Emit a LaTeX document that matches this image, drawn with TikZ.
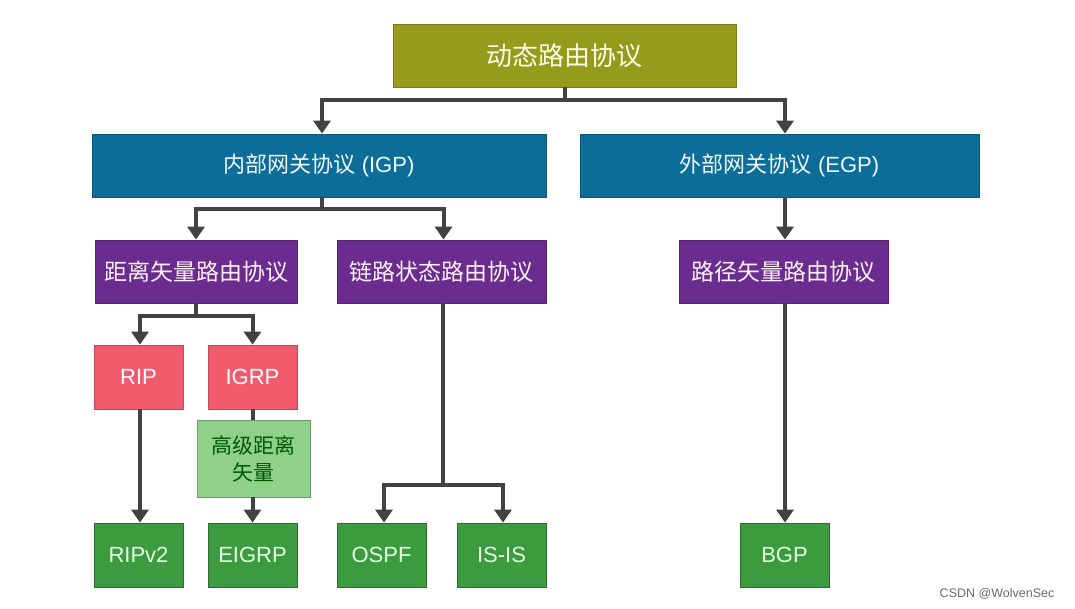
\documentclass[tikz,border=0pt]{standalone}
\usepackage{fontspec}
\setmainfont{Liberation Sans}
\newfontfamily\cjk{Noto Sans CJK SC}
\usetikzlibrary{arrows.meta,calc}
\definecolor{olivebox}{HTML}{979B1B}
\definecolor{bluebox}{HTML}{0C6D99}
\definecolor{purplebox}{HTML}{6A2C8E}
\definecolor{pinkbox}{HTML}{F15B6E}
\definecolor{greenbox}{HTML}{3C9B3E}
\definecolor{lgreenbox}{HTML}{8FD18B}
\definecolor{connc}{HTML}{424242}
\tikzset{
  box/.style={rectangle, inner sep=0pt, align=center, line width=0.8pt},
  lvlzero/.style={box, fill=olivebox, draw=olivebox!80!black, text=yellow!8!white, font=\fontsize{26}{30}\selectfont},
  lvlone/.style={box, fill=bluebox, draw=bluebox!80!black, text=cyan!6!white, font=\fontsize{22}{26}\selectfont, minimum height=63pt},
  lvltwo/.style={box, fill=purplebox, draw=purplebox!80!black, text=magenta!6!white, font=\fontsize{23}{27}\selectfont, minimum height=63pt},
  pinkb/.style={box, fill=pinkbox, draw=pinkbox!80!black, text=white, font=\fontsize{22}{26}\selectfont, minimum width=89pt, minimum height=64pt},
  greenb/.style={box, fill=greenbox, draw=greenbox!70!black, text=green!10!white, font=\fontsize{22}{26}\selectfont, minimum width=89pt, minimum height=64pt},
  lgreenb/.style={box, fill=lgreenbox, draw=lgreenbox!75!black, text=green!35!black, font=\fontsize{21}{27}\selectfont, minimum width=113pt, minimum height=77pt},
  conn/.style={line width=4pt, draw=connc},
  arr/.style={conn, -{Triangle[width=17pt,length=13pt]}}
}
\begin{document}
\begin{tikzpicture}[x=1pt,y=-1pt]
\useasboundingbox[fill=white] (0,0) rectangle (1075,609);
% nodes
\node[lvlzero, minimum width=343pt, minimum height=63pt] (top) at (564.5,55.5) {\cjk 动态路由协议};
\node[lvlone, minimum width=454pt] (igp) at (319,165.5) {{\cjk 内部网关协议} (IGP)};
\node[lvlone, minimum width=399pt] (egp) at (779.5,165.5) {{\cjk 外部网关协议} (EGP)};
\node[lvltwo, minimum width=202pt] (dv) at (196,271.5) {\cjk 距离矢量路由协议};
\node[lvltwo, minimum width=209pt] (ls) at (441.5,271.5) {\cjk 链路状态路由协议};
\node[lvltwo, minimum width=209pt] (pv) at (783.5,271.5) {\cjk 路径矢量路由协议};
\node[pinkb] (rip) at (138.5,377) {RIP};
\node[pinkb] (igrp) at (252.5,377) {IGRP};
\node[lgreenb] (adv) at (253.5,458.5) {\cjk 高级距离\\\cjk 矢量};
\node[greenb] (ripv2) at (138.5,555) {RIPv2};
\node[greenb] (eigrp) at (252.5,555) {EIGRP};
\node[greenb] (ospf) at (381.5,555) {OSPF};
\node[greenb] (isis) at (501.5,555) {IS-IS};
\node[greenb] (bgp) at (784.5,555) {BGP};
\node[text=gray!85!black, font=\fontsize{12.5}{14}\selectfont] (wm) at (997,594) {CSDN @WolvenSec};
% connectors
\draw[arr] (top.south) -- ++(0,12.5) -| ([xshift=3pt]igp.north);
\draw[arr] (top.south) -- ++(0,12.5) -| ([xshift=5.5pt]egp.north);
\draw[arr] ([xshift=3pt]igp.south) -- ++(0,12) -| (dv.north);
\draw[arr] ([xshift=3pt]igp.south) -- ++(0,12) -| ([xshift=2pt]ls.north);
\draw[arr] ([xshift=5.5pt]egp.south) -- ([xshift=1.5pt]pv.north);
\draw[arr] (dv.south) -- ++(0,13) -| ([xshift=1.5pt]rip.north);
\draw[arr] (dv.south) -- ++(0,13) -| (igrp.north);
\draw[arr] ([xshift=1.5pt]rip.south) -- ([xshift=1.5pt]ripv2.south |- ripv2.north);
\draw[conn] (igrp.south) -- (igrp.south |- adv.north);
\draw[arr] (igrp.south |- adv.south) -- (eigrp.north);
\draw[arr] ([xshift=1pt]ls.south) -- ++(0,182) -| ([xshift=2.5pt]ospf.north);
\draw[arr] ([xshift=1pt]ls.south) -- ++(0,182) -| ([xshift=1.5pt]isis.north);
\draw[arr] ([xshift=1.5pt]pv.south) -- ([xshift=0.5pt]bgp.north);
\end{tikzpicture}
\end{document}
